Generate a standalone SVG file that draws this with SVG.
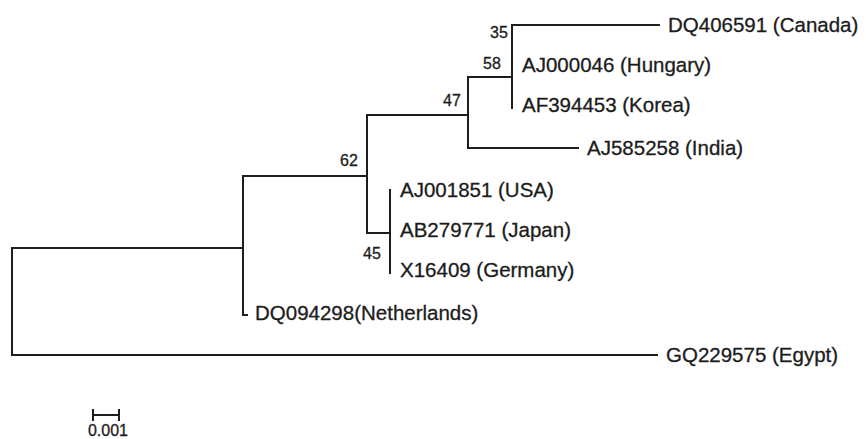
<svg xmlns="http://www.w3.org/2000/svg" width="866" height="439" viewBox="0 0 866 439">
<style>
.br{fill:none;stroke:#1e1e1e;stroke-width:2;stroke-linecap:square}
.lf{font-family:"Liberation Sans",Arial,sans-serif;font-size:20.5px;fill:#1c1c1c;stroke:#1c1c1c;stroke-width:0.3}
.bs{font-family:"Liberation Sans",Arial,sans-serif;font-size:16px;fill:#1c1c1c;stroke:#1c1c1c;stroke-width:0.3}
</style>
<rect width="866" height="439" fill="#fff"/>
<g id="connectors">
<path class="br" d="M12,248 V355 H657"/>
<path class="br" d="M12,248 H243"/>
<path class="br" d="M243,176 V315 H247"/>
<path class="br" d="M243,176 H367"/>
<path class="br" d="M367,115 V233 H390"/>
<path class="br" d="M367,115 H468"/>
<path class="br" d="M468,77 V148 H578"/>
<path class="br" d="M468,77 H512"/>
<path class="br" d="M512,25 V108"/>
<path class="br" d="M512,25 H659"/>
<path class="br" d="M390,190 V273"/>
</g>
<g id="leaf-canada"><text class="lf" x="668" y="32">DQ406591 (Canada)</text></g>
<g id="leaf-hungary"><text class="lf" x="522" y="72">AJ000046 (Hungary)</text></g>
<g id="leaf-korea"><text class="lf" x="522" y="112">AF394453 (Korea)</text></g>
<g id="leaf-india"><text class="lf" x="587" y="155">AJ585258 (India)</text></g>
<g id="leaf-usa"><text class="lf" x="400" y="197">AJ001851 (USA)</text></g>
<g id="leaf-japan"><text class="lf" x="400" y="237">AB279771 (Japan)</text></g>
<g id="leaf-germany"><text class="lf" x="400" y="277">X16409 (Germany)</text></g>
<g id="leaf-netherlands"><text class="lf" x="255" y="320">DQ094298(Netherlands)</text></g>
<g id="leaf-egypt"><text class="lf" x="666" y="362">GQ229575 (Egypt)</text></g>
<g id="bootstrap">
<text class="bs" x="490" y="38">35</text>
<text class="bs" x="483" y="69">58</text>
<text class="bs" x="443" y="106">47</text>
<text class="bs" x="340" y="166">62</text>
<text class="bs" x="363" y="259">45</text>
</g>
<g id="scale">
<path class="br" d="M93,415 H119 M93,409 V421 M119,409 V421" style="stroke-linecap:butt"/>
<text class="bs" x="108" y="436" text-anchor="middle" style="font-size:16px">0.001</text>
</g>
</svg>
